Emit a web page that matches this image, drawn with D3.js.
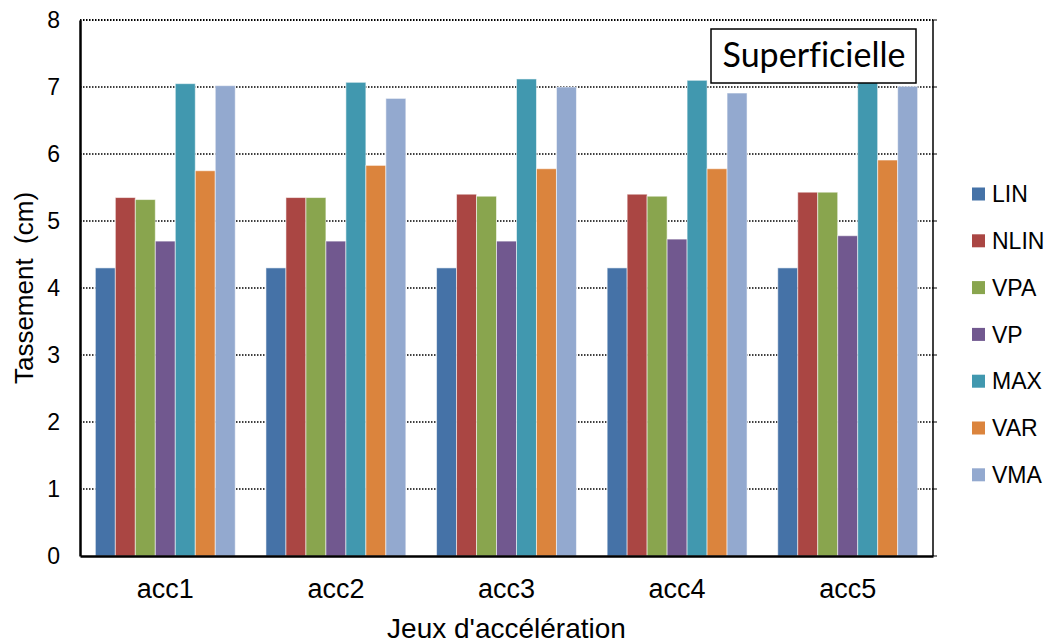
<!DOCTYPE html>
<html>
<head>
<meta charset="utf-8">
<script src="https://cdn.jsdelivr.net/npm/d3@7"></script>
<style>
  body { margin: 0; background: #fff; }
  svg { display: block; font-family: "Liberation Sans", Arial, sans-serif; }
</style>
</head>
<body>
<div id="chart"></div>
<script>
// Data
const groups = ["acc1", "acc2", "acc3", "acc4", "acc5"];
const seriesNames = ["LIN", "NLIN", "VPA", "VP", "MAX", "VAR", "VMA"];
const LIN  = [4.30, 4.30, 4.30, 4.30, 4.30];
const NLIN = [5.35, 5.35, 5.40, 5.40, 5.43];
const VPA  = [5.32, 5.35, 5.37, 5.37, 5.43];
const VP   = [4.70, 4.70, 4.70, 4.73, 4.78];
const MAX  = [7.05, 7.07, 7.12, 7.10, 7.08];
const VAR  = [5.75, 5.83, 5.78, 5.78, 5.91];
const VMA  = [7.02, 6.83, 7.00, 6.91, 7.01];
const yTicks = [0, 1, 2, 3, 4, 5, 6, 7, 8];
const colors = ["#4572A7", "#AA4643", "#89A54E", "#71588F", "#4198AF", "#DB843D", "#93A9CF"];

const seriesValues = [LIN, NLIN, VPA, VP, MAX, VAR, VMA];

const width = 1045;
const height = 643;
const margin = { top: 20, right: 112, bottom: 87, left: 80 };
const plotW = width - margin.left - margin.right;
const plotH = height - margin.top - margin.bottom;

const svg = d3.select("#chart")
  .append("svg")
  .attr("width", width)
  .attr("height", height);

const g = svg.append("g")
  .attr("transform", `translate(${margin.left},${margin.top})`);

// Scales
const x0 = d3.scaleBand().domain(groups).range([0, plotW])
  .paddingInner(0.18).paddingOuter(0.09);
const x1 = d3.scaleBand().domain(seriesNames).range([0, x0.bandwidth()]);
const y = d3.scaleLinear().domain([0, 8]).range([plotH, 0]);
const color = d3.scaleOrdinal().domain(seriesNames).range(colors);

// Gridlines (dotted)
g.append("g")
  .selectAll("line")
  .data(yTicks.filter(d => d > 0))
  .join("line")
  .attr("x1", 0)
  .attr("x2", plotW)
  .attr("y1", d => y(d))
  .attr("y2", d => y(d))
  .attr("stroke", "#000")
  .attr("stroke-width", d => d === 8 ? 2 : 1.5)
  .attr("stroke-dasharray", "1.5,1.5");

// Bars
const rows = groups.map((grp, i) => ({
  grp,
  vals: seriesNames.map((s, j) => ({ s, v: seriesValues[j][i] }))
}));

g.append("g")
  .selectAll("g")
  .data(rows)
  .join("g")
  .attr("transform", d => `translate(${x0(d.grp)},0)`)
  .selectAll("rect")
  .data(d => d.vals)
  .join("rect")
  .attr("x", d => x1(d.s))
  .attr("y", d => y(d.v))
  .attr("width", x1.bandwidth())
  .attr("height", d => plotH - y(d.v))
  .attr("fill", d => color(d.s))
  .attr("stroke", "rgba(255,255,255,0.55)")
  .attr("stroke-width", 1);

// Right border with small ticks
g.append("line")
  .attr("x1", plotW).attr("x2", plotW)
  .attr("y1", 0).attr("y2", plotH)
  .attr("stroke", "#000").attr("stroke-width", 1.5);

g.append("g")
  .selectAll("line")
  .data(yTicks)
  .join("line")
  .attr("x1", plotW).attr("x2", plotW + 4)
  .attr("y1", d => y(d)).attr("y2", d => y(d))
  .attr("stroke", "#000").attr("stroke-width", 1);

// Y axis
const yAxis = g.append("g")
  .call(d3.axisLeft(y).tickValues(yTicks).tickSize(0).tickPadding(20));
yAxis.select(".domain").attr("stroke", "#000").attr("stroke-width", 2.5);
yAxis.selectAll("text")
  .attr("font-size", 23)
  .attr("fill", "#000")
  .attr("font-family", "Liberation Sans, Arial, sans-serif");

// X axis
const xAxis = g.append("g")
  .attr("transform", `translate(0,${plotH})`)
  .call(d3.axisBottom(x0).tickSize(0).tickPadding(23));
xAxis.select(".domain").attr("stroke", "#000").attr("stroke-width", 2.5);
xAxis.selectAll("text")
  .attr("font-size", 27)
  .attr("fill", "#000")
  .attr("font-family", "Liberation Sans, Arial, sans-serif");

// Axis titles
svg.append("text")
  .attr("x", margin.left + plotW / 2)
  .attr("y", 638)
  .attr("text-anchor", "middle")
  .attr("font-size", 28)
  .text("Jeux d'accélération");

svg.append("text")
  .attr("transform", `translate(33,${margin.top + plotH / 2}) rotate(-90)`)
  .attr("text-anchor", "middle")
  .attr("font-size", 26)
  .style("white-space", "pre")
  .text("Tassement  (cm)");

// Label box
const boxG = svg.append("g");
boxG.append("rect")
  .attr("x", 711).attr("y", 29)
  .attr("width", 205).attr("height", 54)
  .attr("fill", "#fff")
  .attr("stroke", "#000")
  .attr("stroke-width", 1.5);
boxG.append("text")
  .attr("x", 814).attr("y", 67)
  .attr("text-anchor", "middle")
  .attr("font-family", "Lato, 'Open Sans', sans-serif")
  .attr("font-size", 34)
  .style("font-variant-ligatures", "none")
  .text("Superficielle");

// Legend
const legend = svg.append("g")
  .attr("transform", "translate(972,194)")
  .selectAll("g")
  .data(seriesNames)
  .join("g")
  .attr("transform", (d, i) => `translate(0,${i * 46.8})`);

legend.append("rect")
  .attr("x", 0).attr("y", -6.5)
  .attr("width", 13).attr("height", 13)
  .attr("fill", d => color(d));

legend.append("text")
  .attr("x", 20)
  .attr("y", 0)
  .attr("dy", "0.36em")
  .attr("font-size", 23)
  .text(d => d);
</script>
</body>
</html>
